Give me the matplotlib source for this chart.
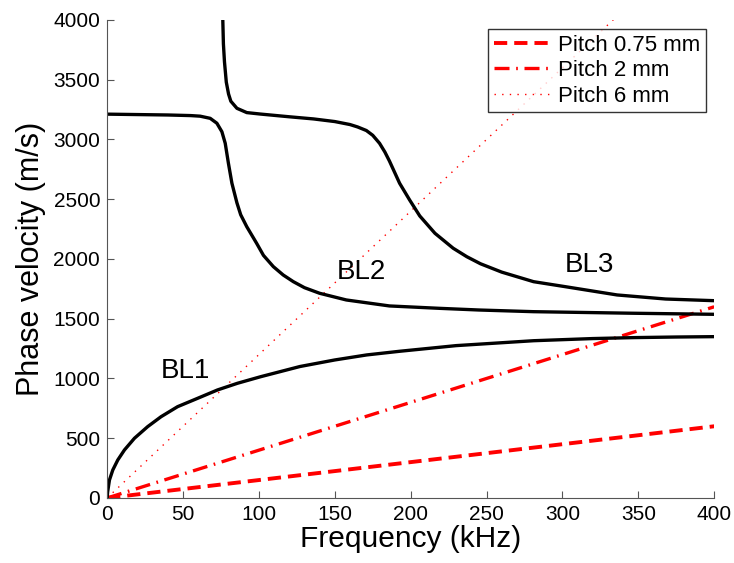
import matplotlib.pyplot as plt
import numpy as np

plt.rcParams['font.family'] = ['Liberation Sans', 'DejaVu Sans']

# dispersion curves (frequency kHz, phase velocity m/s)
bl1_f = [0, 0.3, 1.5, 3.7, 7, 11.4, 18, 26.7, 35.5, 46.4, 59.6, 72.7, 85.9, 101.2, 127, 150,
         171, 193, 230, 281, 320, 347, 375, 400]
bl1_v = [0, 50, 150, 234, 318, 402, 500, 597, 680, 764, 834, 904, 960, 1015, 1100, 1155,
         1197, 1228, 1275, 1316, 1334, 1342, 1347, 1350]

bl2_f = [0, 40, 55, 61.3, 67.9, 72.3, 75.6, 77.8, 79.9, 82.2, 85.5, 88, 92, 98.5, 103, 109.5,
         116, 122.7, 130, 140, 157.6, 186, 219, 245, 281, 346, 400]
bl2_v = [3212, 3205, 3200, 3195, 3177, 3136, 3065, 2968, 2801, 2634, 2470, 2370, 2270, 2131,
         2030, 1936, 1866, 1810, 1760, 1713, 1657, 1607, 1587, 1573, 1559, 1546, 1537]

bl3_f = [76.2, 76.6, 77.3, 78.5, 80, 81.5, 85.5, 92, 100.8, 120, 136, 150, 160, 165, 170.8,
         175, 179.5, 183, 186, 192.7, 199.3, 206, 216, 228, 237, 246, 260, 281, 302, 336,
         368, 400]
bl3_v = [4000, 3800, 3650, 3480, 3380, 3320, 3261, 3225, 3213, 3190, 3172, 3150, 3125, 3105,
         3075, 3035, 2968, 2895, 2820, 2634, 2494, 2360, 2215, 2090, 2019, 1960, 1890, 1810,
         1768, 1699, 1665, 1651]

# grating lines for each pitch
pitch_f = [0, 400]
pitch075_v = [0, 600]
pitch2_v = [0, 1600]
pitch6_v = [0, 4800]

fig = plt.figure(figsize=(7.34, 5.63), dpi=100)
ax = fig.add_axes([0.146, 0.1155, 0.827, 0.849])

ax.plot(pitch_f, pitch075_v, color='red', lw=2.8, dashes=(3.4, 1.8), label='Pitch 0.75 mm')
ax.plot(pitch_f, pitch2_v, color='red', lw=2.4, dashes=(4.5, 2, 0.5, 2), label='Pitch 2 mm')
ax.plot(pitch_f, pitch6_v, color='red', lw=1.0, dashes=(1, 4.5), label='Pitch 6 mm')

for f, v in [(bl1_f, bl1_v), (bl2_f, bl2_v), (bl3_f, bl3_v)]:
    ax.plot(f, v, color='black', lw=2.4, solid_joinstyle='round', solid_capstyle='butt')

ax.text(51.7, 1065, 'BL1', fontsize=20, ha='center', va='center')
ax.text(167.5, 1894, 'BL2', fontsize=20, ha='center', va='center')
ax.text(318, 1950, 'BL3', fontsize=20, ha='center', va='center')

ax.set_xlim(0, 400)
ax.set_ylim(0, 4000)
ax.set_xticks(np.arange(0, 401, 50))
ax.set_yticks(np.arange(0, 4001, 500))
ax.tick_params(direction='in', labelsize=15, length=5, color='#555555', pad=5)
ax.spines['top'].set_visible(False)
ax.spines['right'].set_visible(False)
ax.spines['left'].set_color('#555555')
ax.spines['bottom'].set_color('#555555')

ax.set_xlabel('Frequency (kHz)', fontsize=21.5, labelpad=1)
ax.set_ylabel('Phase velocity (m/s)', fontsize=22, labelpad=5)

leg = ax.legend(loc='upper right', fontsize=16, frameon=True, fancybox=False,
                handlelength=2.5, borderpad=0.25, labelspacing=0.2, handletextpad=0.4,
                borderaxespad=0, bbox_to_anchor=(0.987, 0.981))
leg.get_frame().set_edgecolor('black')
leg.get_frame().set_linewidth(1.0)

fig.savefig('out.png', dpi=100)
